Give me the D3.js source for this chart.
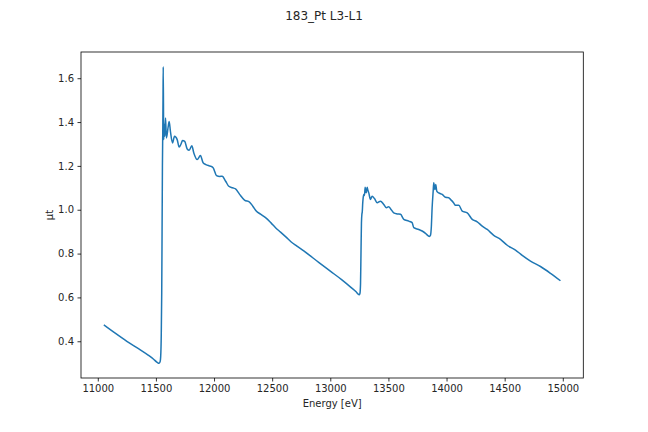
<!DOCTYPE html>
<html lang="en">
    <head>
        <meta charset="utf-8">
        <title>183_Pt L3-L1</title>
        <script type="text/javascript" src="https://d3js.org/d3.v7.min.js"></script>
        <style type="text/css">
            body { margin: 0; background: white; }
            svg text { font-family: "DejaVu Sans", sans-serif; fill: #262626; }
        </style>
    </head>
    <body>
        <script type="text/javascript">
            // Spectrum (energy in eV, absorption)
            var energy = [
                11052, 11150, 11250, 11350, 11430, 11480, 11505, 11518, 11528, 11536,
                11541, 11546, 11550, 11553, 11556, 11559, 11561, 11563, 11567, 11572,
                11576, 11583, 11590, 11606, 11614, 11625, 11643, 11660, 11683, 11700,
                11716, 11729, 11748, 11769, 11786, 11809, 11826, 11855, 11883, 11906,
                11930, 11955, 11975, 11993, 12021, 12050, 12070, 12100, 12127, 12160,
                12185, 12220, 12262, 12305, 12335, 12363, 12400, 12443, 12490, 12529,
                12572, 12620, 12664, 12710, 12772, 12900, 13000, 13100, 13180, 13222,
                13238, 13248, 13255, 13260, 13264, 13268, 13272, 13275, 13279, 13283,
                13288, 13294, 13300, 13309, 13317, 13323, 13331, 13346, 13360, 13380,
                13403, 13432, 13460, 13483, 13503, 13518, 13546, 13575, 13604, 13632,
                13675, 13704, 13718, 13761, 13790, 13819, 13840, 13852, 13862, 13869,
                13876, 13885, 13890, 13899, 13907, 13916, 13933, 13963, 13991, 14019,
                14034, 14060, 14077, 14105, 14135, 14178, 14221, 14264, 14307, 14350,
                14406, 14464, 14522, 14593, 14651, 14722, 14808, 14894, 14980
            ];
            var mu = [
                0.475, 0.437, 0.400, 0.366, 0.338, 0.318, 0.306, 0.301, 0.300, 0.306,
                0.330, 0.430, 0.620, 0.900, 1.200, 1.360, 1.500, 1.652, 1.320, 1.390,
                1.335, 1.418, 1.327, 1.380, 1.403, 1.357, 1.305, 1.335, 1.320, 1.286,
                1.300, 1.316, 1.312, 1.277, 1.271, 1.292, 1.259, 1.229, 1.247, 1.214,
                1.206, 1.201, 1.198, 1.191, 1.156, 1.152, 1.153, 1.130, 1.107, 1.100,
                1.095, 1.070, 1.044, 1.035, 1.015, 0.994, 0.980, 0.964, 0.940, 0.918,
                0.898, 0.875, 0.853, 0.835, 0.812, 0.760, 0.720, 0.680, 0.645, 0.626,
                0.616, 0.612, 0.618, 0.660, 0.800, 0.940, 0.980, 0.990, 1.030, 1.055,
                1.070, 1.065, 1.103, 1.077, 1.103, 1.090, 1.077, 1.047, 1.062, 1.051,
                1.032, 1.039, 1.024, 1.009, 1.014, 1.005, 0.986, 0.981, 0.979, 0.956,
                0.948, 0.941, 0.918, 0.910, 0.903, 0.892, 0.882, 0.878, 0.884, 0.920,
                1.009, 1.085, 1.123, 1.092, 1.115, 1.085, 1.077, 1.070, 1.057, 1.055,
                1.047, 1.032, 1.020, 1.020, 0.994, 0.986, 0.956, 0.945, 0.925, 0.910,
                0.883, 0.865, 0.838, 0.816, 0.792, 0.766, 0.741, 0.710, 0.676
            ];
            var xTicks = [11000, 11500, 12000, 12500, 13000, 13500, 14000, 14500, 15000];
            var yTicks = [0.4, 0.6, 0.8, 1.0, 1.2, 1.4, 1.6];

            var w = 648;
            var h = 432;
            // plot area (window.top is reserved, so other names)
            var padLeft = 81, padRight = 583.3, padTop = 52, padBottom = 378;

            var svg = d3.select("body")
                .append("svg")
                .attr("width", w)
                .attr("height", h);

            // 5% padding on each side, like the original plot
            var xr = d3.extent(energy);
            var yr = d3.extent(mu);
            var xp = (xr[1] - xr[0]) * 0.05;
            var yp = (yr[1] - yr[0]) * 0.05;

            var x = d3.scaleLinear().domain([xr[0] - xp, xr[1] + xp]).range([padLeft, padRight]);
            var y = d3.scaleLinear().domain([yr[0] - yp, yr[1] + yp]).range([padBottom, padTop]);

            var xAxis = svg.append("g")
                .attr("transform", "translate(0," + padBottom + ")")
                .call(d3.axisBottom(x).tickValues(xTicks).tickFormat(d3.format("d"))
                    .tickSizeInner(3.5).tickSizeOuter(0).tickPadding(3.5));
            var yAxis = svg.append("g")
                .attr("transform", "translate(" + padLeft + ",0)")
                .call(d3.axisLeft(y).tickValues(yTicks).tickFormat(d3.format(".1f"))
                    .tickSizeInner(3.5).tickSizeOuter(0).tickPadding(3.5));

            [xAxis, yAxis].forEach(function(g) {
                g.select(".domain").remove();
                g.selectAll("line").attr("stroke", "black").attr("stroke-width", 0.8);
                g.selectAll("text").attr("font-size", "10px")
                    .attr("font-family", "DejaVu Sans").attr("fill", "black");
            });

            // frame
            svg.append("rect")
                .attr("x", padLeft).attr("y", padTop)
                .attr("width", padRight - padLeft).attr("height", padBottom - padTop)
                .attr("fill", "none").attr("stroke", "black").attr("stroke-width", 0.8);

            var line = d3.line()
                .curve(d3.curveMonotoneX)
                .x(function(d, i) { return x(energy[i]); })
                .y(function(d) { return y(d); });

            svg.append("path")
                .datum(mu)
                .attr("d", line)
                .attr("fill", "none")
                .attr("stroke", "#1f77b4")
                .attr("stroke-width", 1.5)
                .attr("stroke-linejoin", "round");

            svg.append("text")
                .text("183_Pt L3-L1")
                .attr("x", w / 2).attr("y", 20)
                .attr("text-anchor", "middle")
                .attr("font-size", "12px").attr("fill", "black");

            svg.append("text")
                .text("Energy [eV]")
                .attr("x", (padLeft + padRight) / 2).attr("y", 407)
                .attr("text-anchor", "middle")
                .attr("font-size", "10px").attr("fill", "black");

            svg.append("text")
                .text("μt")
                .attr("transform", "translate(53," + (padTop + padBottom) / 2 + ") rotate(-90)")
                .attr("text-anchor", "middle")
                .attr("font-size", "10px").attr("fill", "black");
        </script>
    </body>
</html>
